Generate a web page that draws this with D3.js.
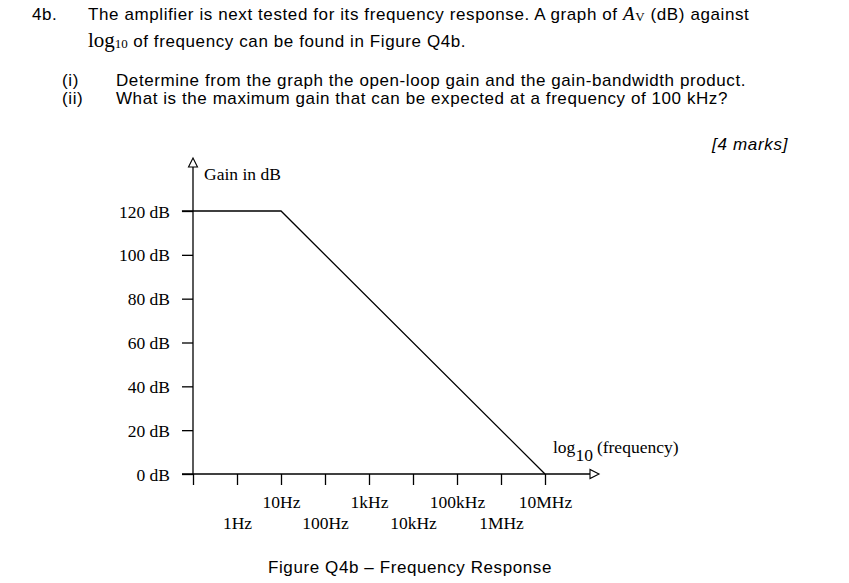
<!DOCTYPE html>
<html><head><meta charset="utf-8">
<script src="https://cdn.jsdelivr.net/npm/d3@7/dist/d3.min.js"></script>
<style>body{margin:0;background:#fff}svg{display:block}</style>
</head><body>
<svg id="c" width="849" height="583"></svg>
<script>
// ---- data ----
const gainTicks = [0, 20, 40, 60, 80, 100, 120];
const freqTicks = [0.1, 1, 10, 100, 1e3, 1e4, 1e5, 1e6, 1e7];
const freqLabels = ["", "1Hz", "10Hz", "100Hz", "1kHz", "10kHz", "100kHz", "1MHz", "10MHz"];
const respFreq = [0.056, 10, 1e7];
const respGain = [120, 120, 0];

const svg = d3.select("#c");
const serif = "'Liberation Serif','Times New Roman',serif";
const sans = "'Liberation Sans',Arial,sans-serif";

// ---- header text ----
const hdr = svg.append("g").attr("font-family", sans).attr("font-size", 17).attr("letter-spacing", 0.6).attr("fill", "#000");
hdr.append("text").attr("x", 32).attr("y", 20).text("4b.");
const t1 = hdr.append("text").attr("x", 88).attr("y", 20);
t1.append("tspan").text("The amplifier is next tested for its frequency response. A graph of ");
t1.append("tspan").attr("font-family", serif).attr("font-style", "italic").attr("font-size", 19).text("A");
t1.append("tspan").attr("font-family", serif).attr("font-size", 13).attr("dy", 1).text("V");
t1.append("tspan").attr("dy", -1).text(" (dB) against");
const t2 = hdr.append("text").attr("x", 88).attr("y", 47);
t2.append("tspan").attr("font-family", serif).attr("font-size", 21).attr("letter-spacing", 0).text("log");
t2.append("tspan").attr("font-family", serif).attr("font-size", 13).attr("letter-spacing", 0).attr("dy", 1).text("10");
t2.append("tspan").attr("dy", -1).text(" of frequency can be found in Figure Q4b.");
hdr.append("text").attr("x", 62).attr("y", 86).text("(i)");
hdr.append("text").attr("x", 116).attr("y", 86).attr("textLength", 630).attr("lengthAdjust", "spacing")
  .text("Determine from the graph the open-loop gain and the gain-bandwidth product.");
hdr.append("text").attr("x", 62).attr("y", 104).text("(ii)");
hdr.append("text").attr("x", 116).attr("y", 104).attr("textLength", 612).attr("lengthAdjust", "spacing")
  .text("What is the maximum gain that can be expected at a frequency of 100 kHz?");
hdr.append("text").attr("x", 712).attr("y", 150).attr("font-style", "italic")
  .attr("textLength", 76).attr("lengthAdjust", "spacing").text("[4 marks]");
hdr.append("text").attr("x", 268).attr("y", 573).attr("textLength", 284).attr("lengthAdjust", "spacing")
  .text("Figure Q4b \u2013 Frequency Response");

// ---- scales ----
const x = d3.scaleLog().domain([0.1, 1e7]).range([193, 545]);
const y = d3.scaleLinear().domain([0, 120]).range([474, 211]);
const tickLen = 11;

const chart = svg.append("g");

// y axis
const yAx = chart.append("g").attr("transform", `translate(${x(0.1)},0)`)
  .call(d3.axisLeft(y).tickValues(gainTicks).tickSize(tickLen).tickPadding(12).tickFormat(d => d + " dB"));
yAx.select(".domain").remove();
yAx.selectAll("line").attr("stroke", "#000").attr("stroke-width", 1.3);
yAx.selectAll("text").attr("font-family", serif).attr("font-size", 17.5).attr("fill", "#000").attr("dy", "0.35em");

// x axis
const xAx = chart.append("g").attr("transform", `translate(0,${y(0)})`)
  .call(d3.axisBottom(x).tickValues(freqTicks).tickSize(tickLen).tickFormat((d, i) => freqLabels[i]));
xAx.select(".domain").remove();
xAx.selectAll("line").attr("stroke", "#000").attr("stroke-width", 1.3);
xAx.selectAll("text").attr("font-family", serif).attr("font-size", 17.5).attr("fill", "#000")
  .attr("dy", null).attr("y", (d, i) => (i % 2 === 0 ? 34 : 55));

// axis lines with open arrows
const x0 = x(0.1), y0 = y(0);
chart.append("line").attr("x1", x0).attr("x2", x0).attr("y1", y0).attr("y2", 166)
  .attr("stroke", "#000").attr("stroke-width", 1.3);
chart.append("path").attr("d", `M${x0},158 L${x0 - 4.5},167 L${x0 + 4.5},167 Z`)
  .attr("fill", "#fff").attr("stroke", "#000").attr("stroke-width", 1.1);
chart.append("line").attr("x1", x0 - tickLen).attr("x2", 590).attr("y1", y0).attr("y2", y0)
  .attr("stroke", "#000").attr("stroke-width", 1.3);
chart.append("path").attr("d", `M599,${y0} L590,${y0 - 4.5} L590,${y0 + 4.5} Z`)
  .attr("fill", "#fff").attr("stroke", "#000").attr("stroke-width", 1.1);

// response line
const pts = respFreq.map((f, i) => [f, respGain[i]]);
chart.append("path").datum(pts)
  .attr("d", d3.line().x(d => x(d[0])).y(d => y(d[1])))
  .attr("fill", "none").attr("stroke", "#000").attr("stroke-width", 1.3);

// axis titles
chart.append("text").attr("x", 204).attr("y", 180).attr("font-family", serif).attr("font-size", 17.5)
  .attr("fill", "#000").text("Gain in dB");
const lt = chart.append("text").attr("x", 553).attr("y", 453).attr("font-family", serif).attr("font-size", 17.5).attr("fill", "#000");
lt.append("tspan").text("log");
lt.append("tspan").attr("dy", 8).text("10");
lt.append("tspan").attr("dy", -8).attr("dx", 4).text("(frequency)");
</script>
</body></html>
